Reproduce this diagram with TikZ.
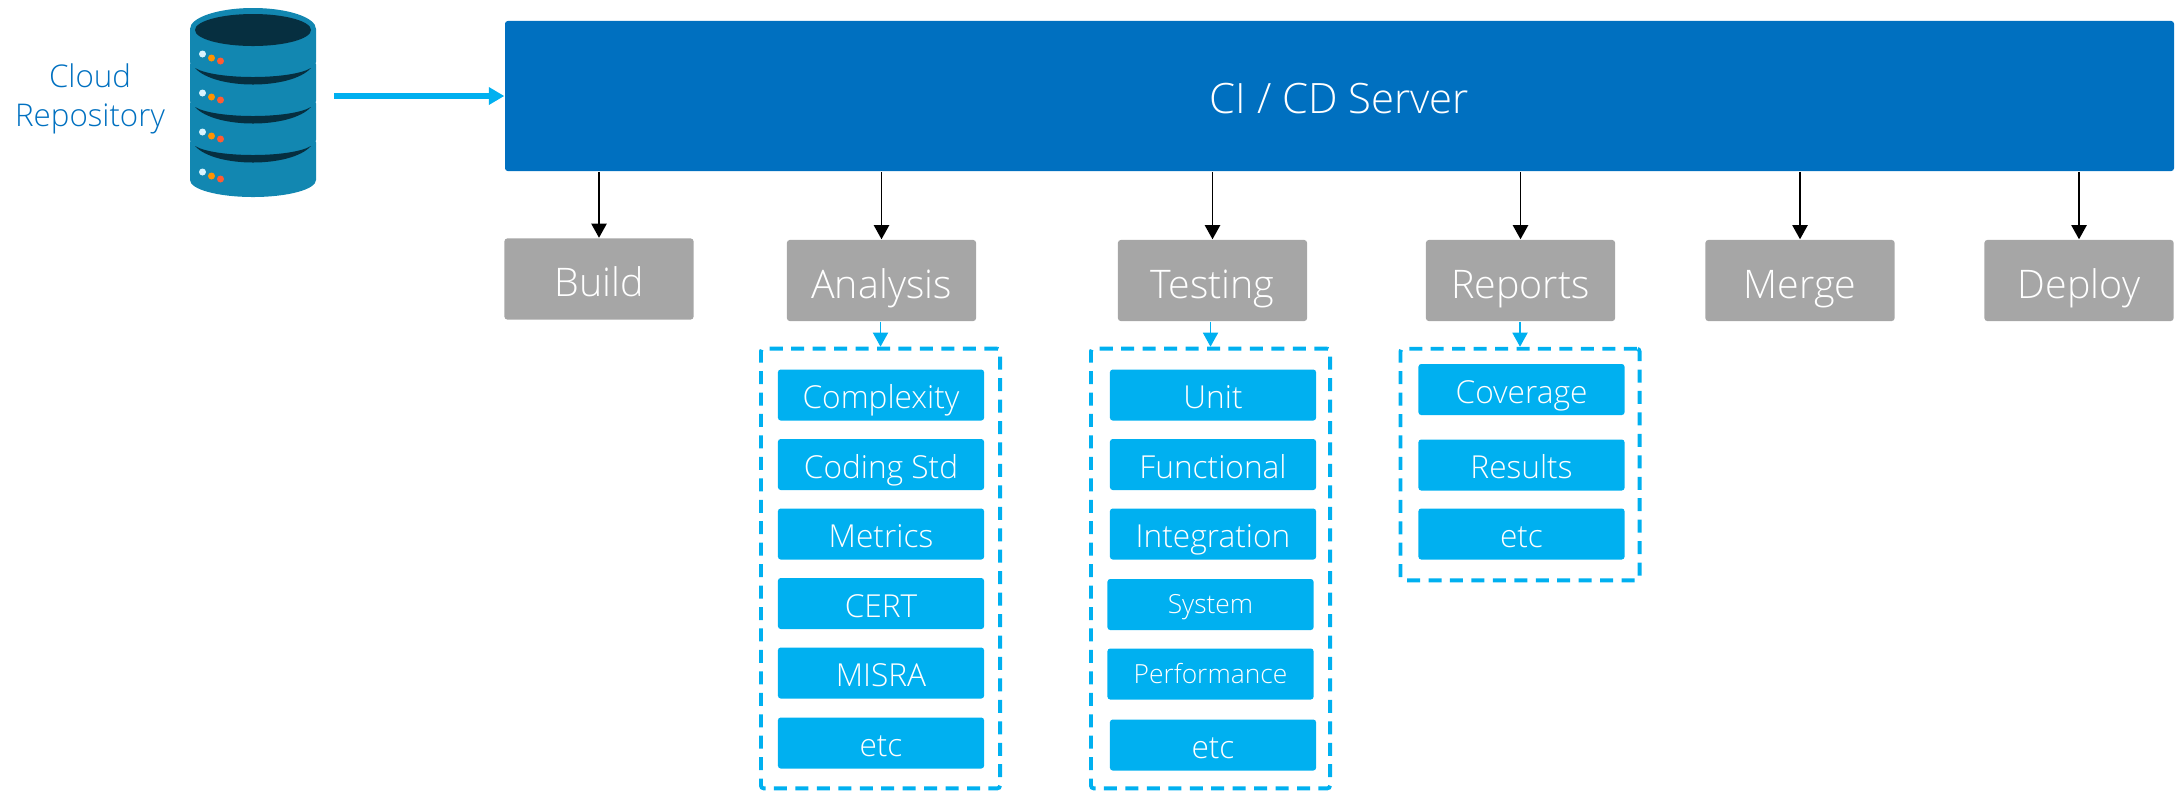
\documentclass[tikz,border=0pt]{standalone}
\usepackage{fontspec}
\setmainfont{Open Sans}[UprightFont=* Light]
\usetikzlibrary{arrows.meta}
\definecolor{serverblue}{HTML}{0070C0}
\definecolor{subblue}{HTML}{00B0F0}
\definecolor{stepgray}{HTML}{A6A6A6}
\definecolor{dbbody}{HTML}{1287B1}
\definecolor{dbdark}{HTML}{062F40}
\tikzset{
	stagebox/.style={fill=stepgray, text=white, rounded corners=0.8pt, inner sep=0pt, minimum width=1.89cm, minimum height=0.81cm, text height=10pt, text depth=0pt, font=\fontsize{11.2}{14}\selectfont},
	subbox/.style={fill=subblue, text=white, rounded corners=0.8pt, inner sep=0pt, minimum width=2.06cm, minimum height=0.51cm, text height=7.7pt, text depth=0pt, font=\fontsize{9}{11}\selectfont},
	smallbox/.style={subbox, text height=5.3pt, font=\fontsize{7.5}{9}\selectfont},
	groupbox/.style={draw=subblue, line width=1.1pt, dash pattern=on 3.7pt off 2.4pt, rounded corners=0.8pt, inner sep=0pt},
	blackarrow/.style={black, line width=0.5pt, -{Triangle[length=4pt, width=4.3pt]}},
	bluearrow/.style={subblue, line width=0.45pt, -{Triangle[length=4pt, width=4.3pt]}},
}
\begin{document}
\begin{tikzpicture}[x=0.01cm, y=-0.01cm]
\useasboundingbox (0,0) rectangle (2176,793);
% repository
\fill[dbbody](190,29) arc[start angle=180, end angle=360, x radius=63, y radius=21]--(316,180) arc[start angle=0, end angle=180, x radius=63, y radius=17]--cycle;
\fill[dbdark](253,30) ellipse[x radius=58, y radius=16];
\foreach \y in {0,39,78}{
	\fill[dbdark](195,\y+68).. controls (215,\y+90) and (291,\y+90)..(311,\y+68).. controls (291,\y+80) and (215,\y+80)..(195,\y+68)--cycle;
	\fill[white](189,\y+63) circle[radius=1.5];
	\fill[white](317,\y+63) circle[radius=1.5];
}
\foreach \y in {0,39,78,118}{
	\fill[white!85!cyan](202.5,\y+54) circle[radius=3.5];
	\fill[orange!85!yellow](211.5,\y+58) circle[radius=3.5];
	\fill[red!60!orange!80!white](220.5,\y+61) circle[radius=3.5];
}
\node[text=serverblue, align=center, font=\fontsize{8.9}{11}\selectfont](repo) at (90,99){Cloud\\Repository};
\coordinate (repoout) at (334,96);
% server
\node[fill=serverblue, text=white, rounded corners=0.8pt, minimum width=16.68cm, minimum height=1.5cm, inner sep=0pt, text height=9.8pt, text depth=0pt, font=\fontsize{11.9}{14}\selectfont](server) at (1339.5,96){CI / CD Server};
\draw[subblue, line width=1.6pt, -{Triangle[length=4.4pt, width=4.8pt]}](repoout)--(server.west);
% stages
\foreach \nm/\txt/\x/\y in {build/Build/599/279, analysis/Analysis/881.5/280.5, testing/Testing/1212.5/280.5, reports/Reports/1520.5/280.5, merge/Merge/1800/280.5, deploy/Deploy/2079/280.5}{
	\node[stagebox](\nm) at (\x,\y){\txt};
	\draw[blackarrow](\nm.north |- server.south)--(\nm.north);
}
% groups
\node[groupbox, minimum width=2.39cm, minimum height=4.395cm](analysisgroup) at (880.5,568.5){};
\node[groupbox, minimum width=2.39cm, minimum height=4.395cm](testinggroup) at (1210.5,568.5){};
\node[groupbox, minimum width=2.39cm, minimum height=2.315cm](reportsgroup) at (1520,464.5){};
\foreach \nm in {analysis, testing, reports}{
	\draw[bluearrow](\nm.south -| \nm group.north)--(\nm group.north);
}
% analysis items
\foreach \nm/\txt/\y in {complexity/Complexity/395, codingstd/Coding Std/464.5, metrics/Metrics/534, cert/CERT/603.5, misra/MISRA/673, analysisetc/etc/743}{
	\node[subbox](\nm) at (881,\y){\txt};
}
% testing items
\foreach \nm/\txt/\y in {unit/Unit/395, functional/Functional/464.5, integration/Integration/534, testingetc/etc/745}{
	\node[subbox](\nm) at (1213,\y){\txt};
}
\node[smallbox](system) at (1210.5,604.5){System};
\node[smallbox](performance) at (1210.5,674){Performance};
% report items
\foreach \nm/\txt/\y in {coverage/Coverage/389.5, results/Results/465, reportsetc/etc/534}{
	\node[subbox](\nm) at (1521.5,\y){\txt};
}
\end{tikzpicture}
\end{document}
